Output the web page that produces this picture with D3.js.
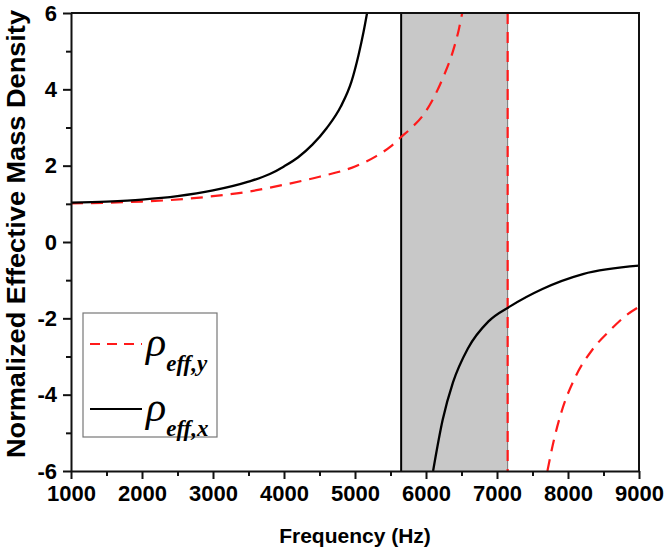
<!DOCTYPE html>
<html>
<head>
<meta charset="utf-8">
<script src="https://cdn.jsdelivr.net/npm/d3@7"></script>
<style>
  body { margin: 0; background: #fff; }
  .axis text { font: bold 22px "Liberation Sans", Arial, sans-serif; fill: #000; }
  .axis path, .axis line { stroke: #111; stroke-width: 2; }
</style>
</head>
<body>
<svg id="chart" width="666" height="550"></svg>
<script>
// data
var xTicks = [1000, 2000, 3000, 4000, 5000, 6000, 7000, 8000, 9000];
var yTicks = [-6, -4, -2, 0, 2, 4, 6];
var bandGap = [5650, 7150];

var rhoX1Freq = [1000, 1500, 2000, 2500, 3000, 3500, 3800, 4000, 4200, 4400, 4600, 4800, 4950, 5050, 5120, 5170];
var rhoX1Val  = [1.03, 1.06, 1.11, 1.20, 1.35, 1.58, 1.78, 1.98, 2.22, 2.55, 2.98, 3.55, 4.20, 4.90, 5.50, 6.00];
var rhoX2Freq = [6100, 6235, 6380, 6590, 6880, 7190, 7640, 8210, 9000];
var rhoX2Val  = [-6.0, -4.66, -3.68, -2.79, -2.08, -1.68, -1.23, -0.84, -0.62];

var rhoY1Freq = [1000, 1500, 2000, 2400, 3000, 3500, 4000, 4500, 5000, 5300, 5500, 5650, 5800, 5950, 6100, 6250, 6380, 6460, 6510];
var rhoY1Val  = [1.01, 1.03, 1.06, 1.10, 1.20, 1.32, 1.50, 1.71, 1.98, 2.25, 2.50, 2.75, 3.00, 3.30, 3.75, 4.35, 5.00, 5.55, 6.00];
var rhoY2Freq = [7710, 7800, 7900, 8100, 8340, 8600, 8800, 9000];
var rhoY2Val  = [-6.0, -5.2, -4.5, -3.55, -2.83, -2.30, -1.95, -1.70];

var svg = d3.select("#chart"),
    margin = {top: 13, right: 27, bottom: 79, left: 71},
    width = +svg.attr("width") - margin.left - margin.right,
    height = +svg.attr("height") - margin.top - margin.bottom,
    g = svg.append("g").attr("transform", "translate(" + margin.left + "," + margin.top + ")");

var x = d3.scaleLinear().domain([1000, 9000]).range([0, width]);
var y = d3.scaleLinear().domain([-6, 6]).range([height, 0]);

svg.append("defs").append("clipPath").attr("id", "clip")
  .append("rect").attr("width", width).attr("height", height);

var plot = g.append("g").attr("clip-path", "url(#clip)");

/* band gap shading */
plot.append("rect")
    .attr("x", x(bandGap[0]))
    .attr("y", 0)
    .attr("width", x(bandGap[1]) - x(bandGap[0]))
    .attr("height", height)
    .attr("fill", "#c8c8c8");

plot.append("line")
    .attr("x1", x(bandGap[1])).attr("x2", x(bandGap[1]))
    .attr("y1", 0).attr("y2", height)
    .attr("stroke", "#777").attr("stroke-width", 1);

plot.append("line")
    .attr("x1", x(bandGap[0])).attr("x2", x(bandGap[0]))
    .attr("y1", 0).attr("y2", height)
    .attr("stroke", "#000").attr("stroke-width", 2);

plot.append("line")
    .attr("x1", x(bandGap[1])).attr("x2", x(bandGap[1]))
    .attr("y1", 0).attr("y2", height)
    .attr("stroke", "#ff1a1a").attr("stroke-width", 2.2)
    .attr("stroke-dasharray", "11,8");

var line = d3.line()
    .x(function(d) { return x(d[0]); })
    .y(function(d) { return y(d[1]); })
    .curve(d3.curveMonotoneX);

function pairs(f, v) { return f.map(function(d, i) { return [d, v[i]]; }); }

[[rhoY1Freq, rhoY1Val], [rhoY2Freq, rhoY2Val]].forEach(function(s) {
  plot.append("path")
      .datum(pairs(s[0], s[1]))
      .attr("d", line)
      .attr("fill", "none")
      .attr("stroke", "#ff1a1a")
      .attr("stroke-width", 2.2)
      .attr("stroke-dasharray", "12,8");
});

[[rhoX1Freq, rhoX1Val], [rhoX2Freq, rhoX2Val]].forEach(function(s) {
  plot.append("path")
      .datum(pairs(s[0], s[1]))
      .attr("d", line)
      .attr("fill", "none")
      .attr("stroke", "#000")
      .attr("stroke-width", 2.3);
});

/* axes */
var minorX = d3.range(1500, 9000, 1000);
var minorY = d3.range(-5, 6, 2);

g.append("g")
    .attr("class", "axis")
    .attr("transform", "translate(0," + height + ")")
    .call(d3.axisBottom(x).tickValues(xTicks).tickSize(8).tickSizeOuter(0).tickPadding(6)
      .tickFormat(function(d) { return String(d); }));

g.append("g")
    .attr("class", "axis")
    .attr("transform", "translate(0," + height + ")")
    .call(d3.axisBottom(x).tickValues(minorX).tickSize(5).tickSizeOuter(0).tickFormat(""))
    .select(".domain").remove();

g.append("g")
    .attr("class", "axis")
    .call(d3.axisLeft(y).tickValues(yTicks).tickSize(8).tickSizeOuter(0).tickPadding(6)
      .tickFormat(function(d) { return String(d); }));

g.append("g")
    .attr("class", "axis")
    .call(d3.axisLeft(y).tickValues(minorY).tickSize(5).tickSizeOuter(0).tickFormat(""))
    .select(".domain").remove();

/* top and right frame */
g.append("path")
    .attr("d", "M0,0H" + width + "V" + height)
    .attr("fill", "none")
    .attr("stroke", "#111")
    .attr("stroke-width", 2);

/* axis titles */
svg.append("text")
    .attr("x", margin.left + width / 2)
    .attr("y", 543)
    .attr("text-anchor", "middle")
    .style("font", "bold 21px 'Liberation Sans', Arial, sans-serif")
    .text("Frequency (Hz)");

svg.append("text")
    .attr("transform", "translate(25,234) rotate(-90)")
    .attr("text-anchor", "middle")
    .attr("textLength", 448)
    .attr("lengthAdjust", "spacingAndGlyphs")
    .style("font", "bold 25px 'Liberation Sans', Arial, sans-serif")
    .text("Normalized Effective Mass Density");

/* legend */
var legend = svg.append("g").attr("transform", "translate(83,313)");

legend.append("rect")
    .attr("width", 134)
    .attr("height", 124)
    .attr("fill", "#fff")
    .attr("stroke", "#777")
    .attr("stroke-width", 1.2);

var items = [
  {sub: "eff,y", color: "#ff1a1a", dash: "10,7", y: 31},
  {sub: "eff,x", color: "#000", dash: null, y: 96}
];

items.forEach(function(d) {
  legend.append("line")
      .attr("x1", 7).attr("x2", 59)
      .attr("y1", d.y).attr("y2", d.y)
      .attr("stroke", d.color)
      .attr("stroke-width", 2.2)
      .attr("stroke-dasharray", d.dash);

  var t = legend.append("text")
      .attr("x", 63)
      .attr("y", d.y + 12)
      .style("font-family", "'Liberation Serif', 'Times New Roman', serif")
      .style("font-style", "italic");
  t.append("tspan").style("font-size", "42px").text("ρ");
  t.append("tspan")
      .attr("dy", 15)
      .style("font-size", "23px")
      .style("font-weight", "bold")
      .text(d.sub);
});
</script>
</body>
</html>
